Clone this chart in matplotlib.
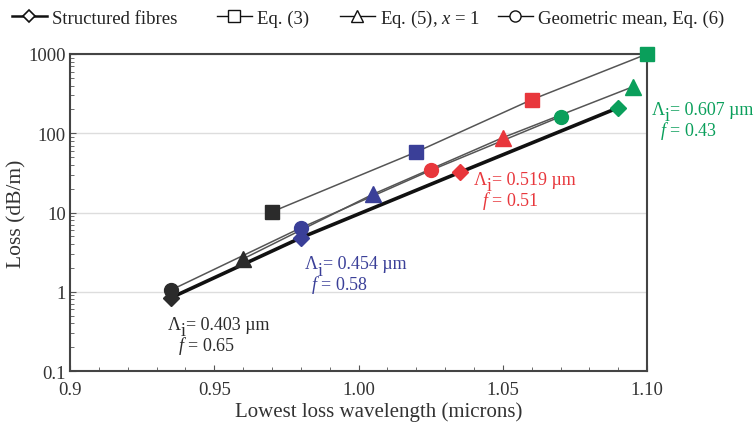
import matplotlib
matplotlib.use("Agg")
import matplotlib.pyplot as plt
from matplotlib.ticker import MultipleLocator, LogLocator, NullFormatter
from matplotlib.lines import Line2D

plt.rcParams['font.family'] = ['Liberation Serif', 'DejaVu Serif']
plt.rcParams['mathtext.fontset'] = 'custom'
plt.rcParams['mathtext.rm'] = 'Liberation Serif'
plt.rcParams['mathtext.it'] = 'Liberation Serif:italic'

# Data
struct_x = [0.935, 0.98, 1.035, 1.09]
struct_y = [0.84, 4.8, 32, 210]
eq3_x = [0.97, 1.02, 1.06, 1.10]
eq3_y = [10.2, 58, 265, 1000]
eq5_x = [0.96, 1.005, 1.05, 1.095]
eq5_y = [2.6, 17, 88, 385]
geo_x = [0.935, 0.98, 1.025, 1.07]
geo_y = [1.05, 6.4, 34, 162]
point_colors = ['#2b2b2b', '#3a3f98', '#e8373c', '#0a9f5b']
labels_lambda = ['0.403', '0.454', '0.519', '0.607']
labels_f = ['0.65', '0.58', '0.51', '0.43']
x_ticks = [0.9, 0.95, 1.00, 1.05, 1.10]
x_ticklabels = ['0.9', '0.95', '1.00', '1.05', '1.10']
y_ticks = [0.1, 1, 10, 100, 1000]
y_ticklabels = ['0.1', '1', '10', '100', '1000']

fig = plt.figure(figsize=(7.56, 4.27), dpi=100)
ax = fig.add_axes([0.0926, 0.1288, 0.7633, 0.7424])

line_gray = '#555555'
ax.plot(struct_x, struct_y, color='#111111', lw=2.6, zorder=2)
ax.plot(eq3_x, eq3_y, color=line_gray, lw=1.1, zorder=2)
ax.plot(eq5_x, eq5_y, color=line_gray, lw=1.1, zorder=2)
ax.plot(geo_x, geo_y, color=line_gray, lw=1.1, zorder=2)

for xs, ys, m, s in [(struct_x, struct_y, 'D', 8), (eq3_x, eq3_y, 's', 10),
                     (eq5_x, eq5_y, '^', 11), (geo_x, geo_y, 'o', 10)]:
    for x, y, c in zip(xs, ys, point_colors):
        ax.plot([x], [y], marker=m, ms=s, color=c, mec=c, ls='none', zorder=4, clip_on=False)

ax.set_yscale('log')
ax.set_xlim(0.9, 1.10)
ax.set_ylim(0.1, 1000)
ax.set_xticks(x_ticks)
ax.set_xticklabels(x_ticklabels)
ax.xaxis.set_minor_locator(MultipleLocator(0.01))
ax.set_yticks(y_ticks)
ax.set_yticklabels(y_ticklabels)
ax.yaxis.set_minor_locator(LogLocator(base=10, subs=range(2, 10)))
ax.yaxis.set_minor_formatter(NullFormatter())
ax.tick_params(which='both', direction='in', colors='#555555', labelcolor='#333333', labelsize=13.5)
ax.tick_params(which='major', length=4, width=0.8)
ax.tick_params(which='minor', length=3, width=0.6)
ax.tick_params(axis='x', pad=7)
ax.tick_params(axis='y', pad=3)
ax.grid(axis='y', which='major', color='#dddddd', lw=1)
ax.set_axisbelow(True)
for sp in ax.spines.values():
    sp.set_color('#444444')
    sp.set_linewidth(1.5)

ax.set_xlabel('Lowest loss wavelength (microns)', fontsize=15, color='#333333')
ax.xaxis.set_label_coords(0.535, -0.095)
ax.set_ylabel('Loss (dB/m)', fontsize=15.5, color='#333333', labelpad=1)

# Annotations (data coords of the left edge / vertical centre of each line)
lam_pos = [(0.934, 0.384), (0.9815, 2.25), (1.040, 25.9), (1.1017, 198)]
f_pos = [(0.9375, 0.214), (0.9835, 1.26), (1.0428, 14.5), (1.1045, 111)]
for (lx, ly), (fx, fy), lam, fv, c in zip(lam_pos, f_pos, labels_lambda, labels_f, point_colors):
    kw = dict(color=c, fontsize=13, ha='left', va='center', annotation_clip=False,
              textcoords='offset points', xycoords='data')
    ax.annotate('\u039b', (lx, ly), xytext=(0, 0), **kw)
    ax.annotate('i', (lx, ly), xytext=(9.3, -4.5), **kw)
    ax.annotate('= ' + lam + ' \u00b5m', (lx, ly), xytext=(13, 0), **kw)
    ax.annotate(r'$f$' + ' = ' + fv, (fx, fy), xytext=(0, 0), **kw)

# Legend: four single-entry legends placed along the top
handles = [
    Line2D([], [], color='#111111', lw=1.8, marker='D', ms=6, mfc='white', mec='#111111', mew=1.2),
    Line2D([], [], color='#111111', lw=1.0, marker='s', ms=8, mfc='white', mec='#111111'),
    Line2D([], [], color='#111111', lw=1.0, marker='^', ms=9, mfc='white', mec='#111111'),
    Line2D([], [], color='#111111', lw=1.0, marker='o', ms=8, mfc='white', mec='#111111'),
]
labels = ['Structured fibres', 'Eq. (3)', r'Eq. (5), $x$ = 1', 'Geometric mean, Eq. (6)']
starts = [12, 217, 340, 498]
for h, lab, sx in zip(handles, labels, starts):
    fig.legend([h], [lab], loc='center left', bbox_to_anchor=(sx / 756, 1 - 19 / 427),
               frameon=False, fontsize=13.5, handlelength=1.85, handletextpad=0.3,
               borderpad=0, borderaxespad=0, labelcolor='#222222')

fig.savefig('out.png', dpi=100)
